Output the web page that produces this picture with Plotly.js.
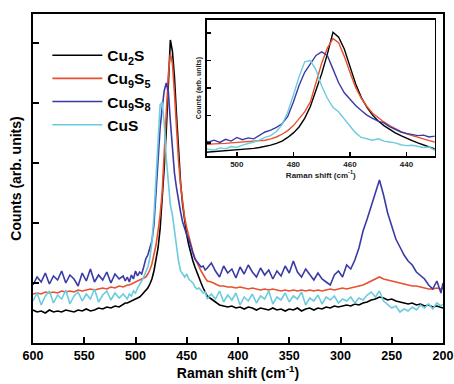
<!DOCTYPE html>
<html>
<head>
<meta charset="utf-8">
<script src="https://cdn.plot.ly/plotly-3.0.1.min.js"></script>
<style>html,body{margin:0;padding:0;background:#fff}#chart{width:454px;height:384px}</style>
</head>
<body>
<div id="chart"></div>
<script>
// Raman shift (cm^-1) sampling
const ramanShift = [
 600,596,592,588,584,580,576,572,568,564,560,556,552,548,544,540,536,532,528,524,520,516,512,
 510,508,506,504,502,500,498,496,494,492,490,488,486,484,482,480,478,476,474,472,470,468,466,464,462,460,458,456,454,452,450,448,446,444,442,440,438,436,434,432,430,
 426,422,418,414,410,406,402,398,394,390,386,382,378,374,370,366,362,358,354,350,346,342,338,334,330,326,322,318,314,310,306,302,298,294,290,286,282,278,274,270,266,262,258,254,250,246,242,238,234,230,226,222,218,214,210,206,202,200
];

const cu2s = [
 33,31,32,30,33,31,32,31,33,32,31,33,32,34,32,33,35,34,36,35,37,36,39,
 40,40,41,42,43,44,45,46,48,50,52,55,59,64,72,82,95,114,140,175,212,255,303,292,266,228,190,160,138,121,108,98,89,82,76,70,65,60,55,51,47,
 44,41,38,37,36,37,35,36,34,36,35,33,35,34,33,35,33,34,32,34,33,35,32,34,35,33,35,34,36,35,37,36,37,38,37,39,38,40,41,43,44,46,45,43,44,42,41,40,39,40,38,39,37,38,36,37,36,35
];

const cu9s5 = [
 49,50,49,51,50,51,50,52,51,52,51,53,52,53,54,53,54,55,54,56,55,57,56,
 57,58,58,59,60,61,62,63,64,65,66,69,73,79,87,98,112,128,150,190,235,268,289,280,250,215,182,158,140,125,115,106,98,91,85,80,76,72,68,65,62,
 61,59,57,57,56,56,55,56,55,54,55,54,53,54,53,54,53,52,53,52,53,52,53,52,53,52,53,52,53,54,53,54,55,54,55,56,57,58,60,62,64,66,64,63,62,61,60,59,58,57,57,56,55,54,54,55,54,55
];

const cu9s8 = [
 58,66,61,70,59,67,63,72,60,68,64,57,70,62,74,61,68,63,71,60,69,64,67,
 62,66,61,68,64,72,67,71,69,76,84,88,94,102,118,150,186,215,235,252,260,252,222,192,170,155,142,131,121,114,108,104,96,90,84,81,78,76,77,73,75,
 80,72,66,77,70,74,65,76,69,78,71,66,75,68,73,64,72,67,77,70,82,71,66,74,68,63,70,64,61,58,68,72,66,78,74,83,95,112,124,138,150,163,148,130,118,104,96,88,82,78,71,67,64,58,54,62,50,60
];

const cus = [
 42,50,38,47,52,40,48,44,53,39,47,51,42,49,44,54,41,48,52,43,50,45,49,
 46,44,49,47,52,50,55,58,62,66,72,76,85,100,128,165,205,238,241,220,185,158,138,128,112,98,82,72,69,66,69,64,62,60,56,54,55,52,50,51,44,
 49,44,52,41,48,43,50,38,46,42,49,40,47,44,52,39,46,43,50,41,47,44,51,38,45,42,48,39,46,43,47,40,44,42,46,40,45,43,48,51,46,52,42,38,35,37,31,34,32,36,33,38,35,39,34,40,37,39
];

const seriesNames = ['Cu<sub>2</sub>S', 'Cu<sub>9</sub>S<sub>5</sub>', 'Cu<sub>9</sub>S<sub>8</sub>', 'CuS'];
const seriesData = [cu2s, cu9s5, cu9s8, cus];
const seriesColors = ['#000000', '#e8502f', '#3a3aa6', '#6ccbde'];
const mainTicks = [600, 550, 500, 450, 400, 350, 300, 250, 200];
const insetTicks = [500, 480, 460, 440];

const FONT = 'Liberation Sans, Arial, sans-serif';
const traces = [];
seriesData.forEach((ys, i) => {
  traces.push({
    x: ramanShift, y: ys, type: 'scatter', mode: 'lines',
    name: seriesNames[i], line: {color: seriesColors[i], width: 1.6},
    xaxis: 'x', yaxis: 'y', showlegend: true
  });
});
seriesData.forEach((ys, i) => {
  traces.push({
    x: ramanShift, y: ys, type: 'scatter', mode: 'lines',
    name: seriesNames[i], line: {color: seriesColors[i], width: 1.4},
    xaxis: 'x2', yaxis: 'y2', showlegend: false
  });
});

const layout = {
  width: 454, height: 384,
  margin: {l: 33, r: 11, t: 14, b: 41},
  paper_bgcolor: '#ffffff', plot_bgcolor: '#ffffff',
  font: {family: FONT, color: '#000'},
  showlegend: true,
  legend: {
    x: 0.035, y: 0.925, xanchor: 'left', yanchor: 'top',
    bgcolor: 'rgba(0,0,0,0)', borderwidth: 0,
    font: {family: FONT, size: 15.5, weight: 'bold', color: '#000'},
    itemwidth: 50, tracegroupgap: 0
  },
  xaxis: {
    domain: [0, 1], range: [600, 200], autorange: false,
    showgrid: false, zeroline: false,
    showline: true, linecolor: '#000', linewidth: 2, mirror: true,
    ticks: 'inside', ticklen: 6, tickwidth: 2, tickcolor: '#000',
    tickmode: 'array', tickvals: mainTicks, ticktext: mainTicks.map(String),
    ticklabeloverflow: 'allow',
    tickfont: {family: FONT, size: 12.5, weight: 'bold', color: '#000'},
    title: {text: 'Raman shift (cm<sup>-1</sup>)', standoff: 4,
            font: {family: FONT, size: 14, weight: 'bold', color: '#000'}}
  },
  yaxis: {
    domain: [0, 1], range: [0, 329], autorange: false,
    showgrid: false, zeroline: false,
    showline: true, linecolor: '#000', linewidth: 2, mirror: true,
    ticks: 'inside', ticklen: 6, tickwidth: 2, tickcolor: '#000',
    tick0: 0, dtick: 60, showticklabels: false,
    title: {text: 'Counts (arb. units)', standoff: 6,
            font: {family: FONT, size: 14, weight: 'bold', color: '#000'}}
  },
  xaxis2: {
    domain: [0.424, 0.98], range: [510.6, 430], autorange: false,
    anchor: 'y2',
    showgrid: false, zeroline: false,
    showline: true, linecolor: '#000', linewidth: 1.5, mirror: true,
    ticks: 'inside', ticklen: 4, tickwidth: 1.5, tickcolor: '#000',
    tickmode: 'array', tickvals: insetTicks, ticktext: insetTicks.map(String),
    tickfont: {family: FONT, size: 8, weight: 'bold', color: '#222'},
    title: {text: 'Raman shift (cm<sup>-1</sup>)', standoff: 2,
            font: {family: FONT, size: 8, weight: 'bold', color: '#222'}}
  },
  yaxis2: {
    domain: [0.568, 0.982], range: [31, 330], autorange: false,
    anchor: 'x2',
    showgrid: false, zeroline: false,
    showline: true, linecolor: '#000', linewidth: 1.5, mirror: true,
    ticks: 'inside', ticklen: 4, tickwidth: 1.5, tickcolor: '#000',
    tick0: 59.5, dtick: 60.5, showticklabels: false,
    title: {text: 'Counts (arb. units)', standoff: 3,
            font: {family: FONT, size: 7, weight: 'bold', color: '#222'}}
  }
};

Plotly.newPlot('chart', traces, layout, {staticPlot: true, displayModeBar: false});
</script>
</body>
</html>
